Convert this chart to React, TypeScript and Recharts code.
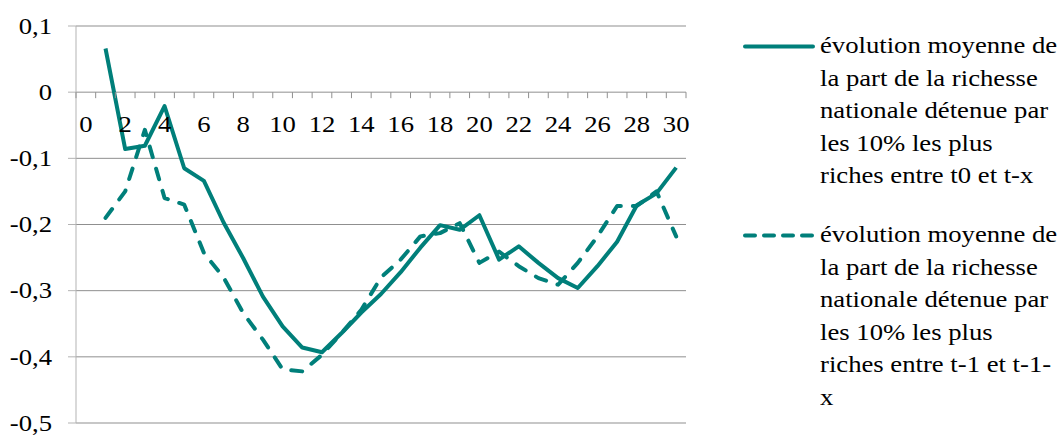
import React from 'react';
import { LineChart, Line, XAxis, YAxis, CartesianGrid, Legend } from 'recharts';

// years back (x) and the two averaged series
const years = [1, 2, 3, 4, 5, 6, 7, 8, 9, 10, 11, 12, 13, 14, 15, 16, 17, 18, 19, 20, 21, 22, 23, 24, 25, 26, 27, 28, 29, 30];
const evolT0 = [
  0.066, -0.086, -0.081, -0.021, -0.115, -0.134, -0.197, -0.251, -0.309, -0.354,
  -0.386, -0.393, -0.364, -0.333, -0.305, -0.272, -0.235, -0.201, -0.208, -0.186,
  -0.253, -0.233, -0.258, -0.281, -0.296, -0.263, -0.226, -0.171, -0.153, -0.114,
];
const evolT1 = [
  -0.19, -0.15, -0.057, -0.16, -0.17, -0.243, -0.28, -0.334, -0.374, -0.419,
  -0.422, -0.397, -0.364, -0.329, -0.28, -0.253, -0.218, -0.213, -0.198, -0.258,
  -0.241, -0.263, -0.281, -0.291, -0.258, -0.218, -0.172, -0.172, -0.15, -0.218,
];
const seriesNames = [
  'évolution moyenne de la part de la richesse nationale détenue par les 10% les plus riches entre t0 et t-x',
  'évolution moyenne de la part de la richesse nationale détenue par les 10% les plus riches entre t-1 et t-1-x',
];
const yTicks = [-0.5, -0.4, -0.3, -0.2, -0.1, 0, 0.1];
const xLabels = [0, 2, 4, 6, 8, 10, 12, 14, 16, 18, 20, 22, 24, 26, 28, 30];
const xBounds = [-0.5, 0.5, 1.5, 2.5, 3.5, 4.5, 5.5, 6.5, 7.5, 8.5, 9.5, 10.5, 11.5, 12.5, 13.5, 14.5, 15.5, 16.5, 17.5, 18.5, 19.5, 20.5, 21.5, 22.5, 23.5, 24.5, 25.5, 26.5, 27.5, 28.5, 29.5, 30.5];

const data = years.map((x, i) => ({ x, a: evolT0[i], b: evolT1[i] }));
const xTicks = [...xBounds, ...xLabels].sort((p, q) => p - q);

const W = 1060;
const H = 435;
const MARGIN = { top: 26, right: 374, bottom: 11, left: 0 };
const X_AXIS_H = 1;
const Y_MIN = -0.5;
const Y_MAX = 0.1;
const ZERO_Y = MARGIN.top + (H - MARGIN.top - MARGIN.bottom - X_AXIS_H) * (Y_MAX / (Y_MAX - Y_MIN));

const TEAL = '#007f7a';
const GRID = '#8f8f8f';
const AXIS = '#b3b3b3';
const FONT = '"Liberation Serif", "Times New Roman", serif';
const STRETCH = 1.16; // the source text is drawn wider than normal

const fmt = (v: number) => (Math.abs(v) < 1e-9 ? '0' : v.toFixed(1).replace('.', ','));

const XTick = (props: any) => {
  const { x, payload } = props;
  const v = payload.value;
  if (Number.isInteger(v)) {
    return (
      <text
        transform={`translate(${x},${ZERO_Y + 40}) scale(${STRETCH},1)`}
        textAnchor="middle"
        fontFamily={FONT}
        fontSize={23}
        fill="#000"
      >
        {v}
      </text>
    );
  }
  return <line x1={x} x2={x} y1={ZERO_Y} y2={ZERO_Y + 6} stroke={GRID} strokeWidth={1} />;
};

const YTick = (props: any) => {
  const { x, y, payload } = props;
  return (
    <text
      transform={`translate(${x},${y}) scale(${STRETCH},1)`}
      dy="0.34em"
      textAnchor="end"
      fontFamily={FONT}
      fontSize={23}
      fill="#000"
    >
      {fmt(payload.value)}
    </text>
  );
};

const LegendBox = (props: any) => {
  const items = [...(props.payload || [])].sort((p: any, q: any) =>
    String(p.dataKey).localeCompare(String(q.dataKey))
  );
  return (
    <div style={{ fontFamily: FONT, fontSize: 23, lineHeight: '32.5px', color: '#000' }}>
      {items.map((p: any) => (
        <div key={p.dataKey} style={{ display: 'flex', alignItems: 'flex-start', marginBottom: 26.5 }}>
          <svg width={72} height={32.5} style={{ flex: 'none' }}>
            <line
              x1={2}
              x2={70}
              y1={16.5}
              y2={16.5}
              stroke={TEAL}
              strokeWidth={4}
              strokeLinecap="round"
              strokeDasharray={p.dataKey === 'b' ? '10 9' : undefined}
            />
          </svg>
          <div
            style={{
              width: 206,
              marginLeft: 5,
              transform: `scaleX(${STRETCH})`,
              transformOrigin: 'left top',
            }}
          >
            {p.value}
          </div>
        </div>
      ))}
    </div>
  );
};

export default function App() {
  return (
    <div style={{ position: 'absolute', left: 0, top: 0, width: W, height: H, background: '#fff' }}>
      <LineChart width={W} height={H} data={data} margin={MARGIN}>
        <CartesianGrid vertical={false} stroke={GRID} />
        <XAxis
          dataKey="x"
          type="number"
          domain={[-0.5, 30.5]}
          allowDataOverflow
          ticks={xTicks}
          interval={0}
          axisLine={false}
          tickLine={false}
          height={X_AXIS_H}
          tick={<XTick />}
        />
        <YAxis
          type="number"
          domain={[Y_MIN, Y_MAX]}
          ticks={yTicks}
          interval={0}
          width={76}
          tickSize={8}
          tickMargin={16}
          axisLine={{ stroke: AXIS }}
          tickLine={{ stroke: AXIS }}
          tick={<YTick />}
        />
        <Legend
          layout="vertical"
          align="center"
          verticalAlign="middle"
          content={<LegendBox />}
          wrapperStyle={{ left: 743, top: 30, width: 317 }}
        />
        <Line
          dataKey="a"
          name={seriesNames[0]}
          stroke={TEAL}
          strokeWidth={4}
          strokeLinejoin="round"
          dot={false}
          isAnimationActive={false}
        />
        <Line
          dataKey="b"
          name={seriesNames[1]}
          stroke={TEAL}
          strokeWidth={4}
          strokeLinejoin="round"
          strokeLinecap="round"
          strokeDasharray="11 12"
          dot={false}
          isAnimationActive={false}
        />
      </LineChart>
    </div>
  );
}
